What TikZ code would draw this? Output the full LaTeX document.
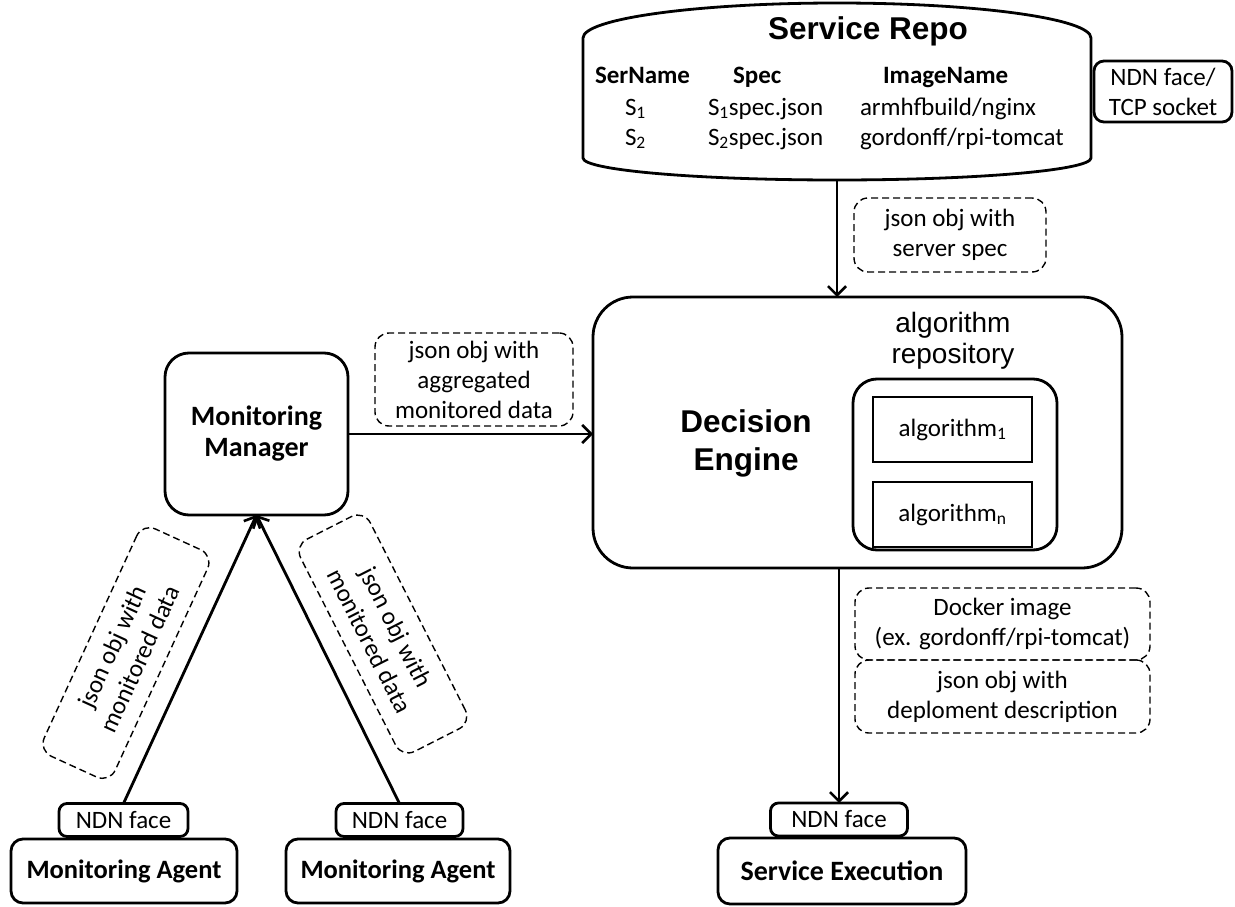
\documentclass[tikz,border=0pt]{standalone}
\usepackage{fontspec}
\setmainfont{Carlito}
\newfontfamily\arialfont{Liberation Sans}
\usetikzlibrary{arrows.meta}

\begin{document}
\begin{tikzpicture}[x=1pt,y=-1pt,
  every node/.style={inner sep=0pt, outer sep=0pt},
  txt/.style={font=\fontsize{25}{30}\selectfont, align=center},
  cell/.style={font=\fontsize{25}{30}\selectfont, anchor=base west},
  cellhead/.style={font=\fontsize{25}{30}\selectfont\bfseries, anchor=base west},
  boldtxt/.style={font=\fontsize{28}{31}\selectfont\bfseries, align=center},
  agenttxt/.style={font=\fontsize{26.5}{31}\selectfont\bfseries, align=center},
  hdr/.style={font=\arialfont\bfseries\fontsize{31.5}{38}\selectfont, align=center},
  frame/.style={draw, line width=2.8pt, rounded corners=#1},
  frame/.default=12pt,
  note/.style={draw, dash pattern=on 7pt off 4pt, line width=1.4pt,
    rounded corners=14pt, txt},
  link/.style={line width=2.8pt,
    -{Straight Barb[length=9pt,width=18pt,line width=2.6pt]}}
]
\useasboundingbox (0,0) rectangle (1235,907);

% ---------- Service repository (cylinder) ----------
\node (repo) [minimum width=508pt, minimum height=177pt] at (837,91.5) {};
\draw[line width=2.8pt]
  (583,38) arc[start angle=180, end angle=0, x radius=254pt, y radius=35pt]
  -- (1091,158) arc[start angle=0, end angle=-180, x radius=254pt, y radius=22pt]
  -- cycle;
\node[hdr, anchor=base] (repotitle) at (868,40) {Service Repo};

\node[cellhead] (hName)  at (595,84) {SerName};
\node[cellhead] (hSpec)  at (733,84) {Spec};
\node[cellhead] (hImage) at (883,84) {ImageName};
\node[cell] (r1name)  at (625,115) {S\textsubscript{1}};
\node[cell] (r1spec)  at (708,115) {S\textsubscript{1}spec.json};
\node[cell] (r1image) at (860,115) {armhfbuild/nginx};
\node[cell] (r2name)  at (625,145) {S\textsubscript{2}};
\node[cell] (r2spec)  at (708,145) {S\textsubscript{2}spec.json};
\node[cell] (r2image) at (860,145) {gordonff/rpi-tomcat};

\node[frame=10pt, txt, minimum width=138pt, minimum height=61pt]
  (repoface) at (1163,91.5) {NDN face/\\TCP socket};

% ---------- Decision engine ----------
\node[frame=40pt, minimum width=529pt, minimum height=271pt] (de) at (857.5,432.5) {};
\node[hdr] (detext) at (746,443) {Decision\\Engine};
\node[font=\arialfont\fontsize{28}{31}\selectfont, align=center]
  (algolabel) at (953,341) {algorithm\\repository};
\node[frame=24pt, minimum width=204pt, minimum height=171pt] (algrepo) at (955,464.5) {};
\node[draw, line width=2.8pt, txt, minimum width=159pt, minimum height=65pt]
  (alg1) at (952.5,429.5) {algorithm\textsubscript{1}};
\node[draw, line width=2.8pt, txt, minimum width=159pt, minimum height=65pt]
  (algn) at (952.5,514.5) {algorithm\textsubscript{n}};

% ---------- Monitoring manager ----------
\node[frame=24pt, boldtxt, minimum width=183pt, minimum height=162pt]
  (mm) at (256.5,434) {Monitoring\\Manager};

% ---------- Bottom row ----------
\node[frame, agenttxt, minimum width=226pt, minimum height=64pt] (agentA) at (124,871) {Monitoring Agent};
\node[frame=8pt, txt, minimum width=129pt, minimum height=33pt] (faceA) at (123.5,820) {NDN face};
\node[frame, agenttxt, minimum width=224pt, minimum height=64pt] (agentB) at (398,871) {Monitoring Agent};
\node[frame=8pt, txt, minimum width=127pt, minimum height=33pt] (faceB) at (399.5,820) {NDN face};
\node[frame, boldtxt, minimum width=248pt, minimum height=66pt] (exec) at (842,871) {Service Execution};
\node[frame=8pt, txt, minimum width=137pt, minimum height=33pt] (faceE) at (839,819.5) {NDN face};

% ---------- Message notes ----------
\node[note, minimum width=192pt, minimum height=74pt] (nSpec) at (950,235) {json obj with\\server spec};
\node[note, minimum width=198pt, minimum height=93pt] (nAgg) at (474,379.5) {json obj with\\aggregated\\monitored data};
\node[note, minimum width=295pt, minimum height=72pt] (nImage) at (1002.5,624) {Docker image\\(ex. gordonff/rpi-tomcat)};
\node[note, minimum width=295pt, minimum height=73pt] (nDeploy) at (1002.5,696.5) {json obj with\\deploment description};
\node[note, rotate=65.4, minimum width=250pt, minimum height=78pt] (nMonA) at (126,653) {json obj with\\monitored data};
\node[note, rotate=-63.1, minimum width=238pt, minimum height=78pt] (nMonB) at (383,634) {json obj with\\monitored data};

% ---------- Connectors ----------
\draw[link] (repo.south) -- (repo.south |- de.north);
\draw[link] (mm.east) -- (mm.east -| de.west);
\draw[link] (faceE.north |- de.south) -- (faceE.north);
\draw[link] (faceA.north) -- (mm.south);
\draw[link] (faceB.north) -- (mm.south);
\end{tikzpicture}
\end{document}
